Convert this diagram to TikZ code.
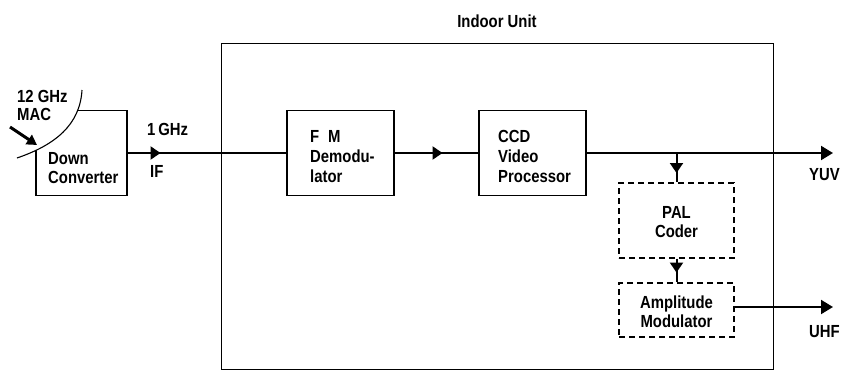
\documentclass[tikz,border=0pt]{standalone}
\usepackage{fontspec}
\setmainfont{Liberation Sans}[FakeStretch=0.85]
\usetikzlibrary{arrows.meta,decorations.markings}
\newcommand{\lblfont}{\fontsize{17.5}{19}\selectfont\bfseries}
\begin{document}
\begin{tikzpicture}[x=1pt,y=-1pt,
  tri/.tip={Triangle[length=10pt,width=13pt]},
  endtri/.tip={Triangle[length=12pt,width=14pt]},
  box/.style={draw, line width=1.1pt, inner sep=0pt},
  dbox/.style={box, dash pattern=on 6pt off 4pt},
  sig/.style={line width=2pt},
  lab/.style={font=\lblfont, inner sep=0pt, align=left},
  clab/.style={font=\lblfont, inner sep=0pt, align=center},
  midarrow/.style={postaction={decorate}, decoration={markings, mark=at position #1 with {\arrow{tri}}}}]
\useasboundingbox (0,0) rectangle (841,375);
% Indoor unit frame
\node[draw, line width=0.8pt, minimum width=552pt, minimum height=326pt, inner sep=0pt] (indoor) at (497,206) {};
\node[clab, anchor=base] (indoorlab) at (497,27) {Indoor Unit};
% boxes
\node[box, minimum width=91pt, minimum height=85pt] (dc) at (81.5,153) {};
\node[box, minimum width=107pt, minimum height=85pt] (fm) at (340.5,153) {};
\node[box, minimum width=107pt, minimum height=85pt] (ccd) at (532.5,153) {};
\node[dbox, minimum width=115pt, minimum height=75pt] (pal) at (676.5,220.5) {};
\node[dbox, minimum width=115pt, minimum height=54pt] (amp) at (676.5,310) {};
% dish edge hiding the corner of the down converter
\coordinate (arcA) at (17,158);
\coordinate (arcB) at (82,90);
\fill[white] (arcA) .. controls (55,145) and (80,125) .. (arcB) -- (10,98) -- cycle;
\draw[line width=1.1pt] (arcA) .. controls (55,145) and (80,125) .. (arcB);
% box texts (base anchor = baseline of last line)
\node[lab, anchor=base west] (dctext) at (48,183) {Down\\Converter};
\node[lab, anchor=base west, font=\fontsize{17.5}{20}\selectfont\bfseries] (fmtext) at (310,182) {F\enspace M\\Demodu-\\lator};
\node[lab, anchor=base west, font=\fontsize{17.5}{20}\selectfont\bfseries] (ccdtext) at (498,182) {CCD\\Video\\Processor};
\node[clab, anchor=base] (paltext) at (676.5,237) {PAL\\Coder};
\node[clab, anchor=base] (amptext) at (676.5,327) {Amplitude\\Modulator};
% input
\node[lab, anchor=base west, font=\fontsize{17.5}{18}\selectfont\bfseries] (mac) at (17,120) {12 GHz\\MAC};
\coordinate (inA) at (10,127);
\coordinate (inB) at (37,145);
\draw[line width=3pt, -{Triangle[length=10pt,width=11pt]}] (inA) -- (inB);
% labels
\node[lab, anchor=base west] (ghz) at (147,135) {1\,GHz};
\node[lab, anchor=base west] (if) at (150,177) {IF};
\node[lab, anchor=base west] (yuv) at (809,180) {YUV};
\node[lab, anchor=base west] (uhf) at (809,337) {UHF};
% signal lines
\coordinate (yuvend) at (833,153);
\coordinate (uhfend) at (833,307);
\coordinate (br) at (pal.north |- ccd.east);
\draw[sig, midarrow=33pt] (dc.east) -- (fm.west);
\draw[sig, midarrow=48pt] (fm.east) -- (ccd.west);
\draw[sig, -{endtri}] (ccd.east) -- (yuvend);
\draw[sig, midarrow=20pt] (br) -- (pal.north);
\draw[sig, midarrow=14pt] (pal.south) -- (amp.north);
\draw[sig, -{endtri}] (amp.east |- uhfend) -- (uhfend);
\end{tikzpicture}
\end{document}
